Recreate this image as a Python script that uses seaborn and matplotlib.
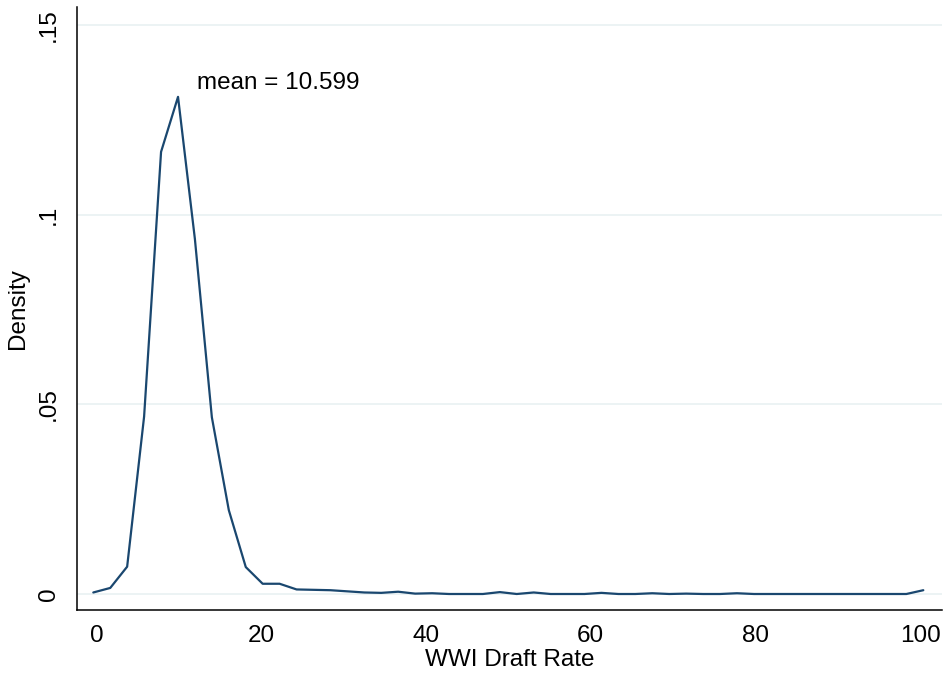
import matplotlib
matplotlib.use("Agg")
import matplotlib.pyplot as plt
import seaborn as sns
import pandas as pd

# Kernel density estimate of the WWI draft rate, evaluated on a 50-point grid
draft_rate = [
    -0.41, 1.65, 3.70, 5.76, 7.82, 9.88, 11.93, 13.99, 16.05, 18.11,
    20.16, 22.22, 24.28, 26.34, 28.39, 30.45, 32.51, 34.56, 36.62, 38.68,
    40.74, 42.79, 44.85, 46.91, 48.97, 51.02, 53.08, 55.14, 57.20, 59.25,
    61.31, 63.37, 65.42, 67.48, 69.54, 71.60, 73.65, 75.71, 77.77, 79.83,
    81.88, 83.94, 86.00, 88.06, 90.11, 92.17, 94.23, 96.29, 98.34, 100.40,
]
density = [
    0.0004, 0.0016, 0.0072, 0.0468, 0.1166, 0.1311, 0.0936, 0.0466, 0.0221, 0.0071,
    0.0027, 0.0027, 0.0012, 0.0011, 0.0010, 0.0007, 0.0004, 0.0003, 0.0006, 0.0001,
    0.0002, 0.0000, 0.0000, 0.0000, 0.0005, 0.0000, 0.0004, 0.0000, 0.0000, 0.0000,
    0.0003, 0.0000, 0.0000, 0.0002, 0.0000, 0.0001, 0.0000, 0.0000, 0.0002, 0.0000,
    0.0000, 0.0000, 0.0000, 0.0000, 0.0000, 0.0000, 0.0000, 0.0000, 0.0000, 0.0010,
]
mean_value = 10.599

x_ticks = [0, 20, 40, 60, 80, 100]
y_ticks = [0, 0.05, 0.10, 0.15]
y_tick_labels = ["0", ".05", ".1", ".15"]

sns.set_style("white")
plt.rcParams["font.family"] = ["Liberation Sans", "DejaVu Sans"]
plt.rcParams["font.size"] = 17.5

df = pd.DataFrame({"WWI Draft Rate": draft_rate, "Density": density})

fig = plt.figure(figsize=(9.44, 6.74), dpi=100)
ax = fig.add_axes([77 / 944, 64 / 674, (942 - 77) / 944, (610 - 7) / 674])

grid_color = "#EAF2F3"
for yv in y_ticks:
    ax.axhline(yv, color=grid_color, lw=1.3, zorder=0)

sns.lineplot(data=df, x="WWI Draft Rate", y="Density", ax=ax,
             color="#1A476F", lw=1.6, zorder=3)

ax.set_xlim(-2.39, 102.67)
ax.set_ylim(-0.00422, 0.1548)

ax.set_xticks(x_ticks)
ax.set_xticklabels([str(v) for v in x_ticks])
ax.set_yticks(y_ticks)
ax.set_yticklabels(y_tick_labels, rotation=90, va="center")

ax.tick_params(axis="both", direction="out", length=6.5, width=1.0,
               color="black", labelsize=17.5, labelcolor="black")
ax.tick_params(axis="x", pad=4)
ax.tick_params(axis="y", pad=6)

for side in ("top", "right"):
    ax.spines[side].set_visible(False)
for side in ("left", "bottom"):
    ax.spines[side].set_color("black")
    ax.spines[side].set_linewidth(1.1)

ax.set_xlabel("WWI Draft Rate", fontsize=17.5, labelpad=2, color="black")
ax.set_ylabel("Density", fontsize=17.5, labelpad=6, color="black")

ax.text(12.18, 0.1348, f"mean = {mean_value:.3f}", fontsize=17.5,
        ha="left", va="center", color="black")

fig.savefig("out.png", dpi=100, facecolor="white")
